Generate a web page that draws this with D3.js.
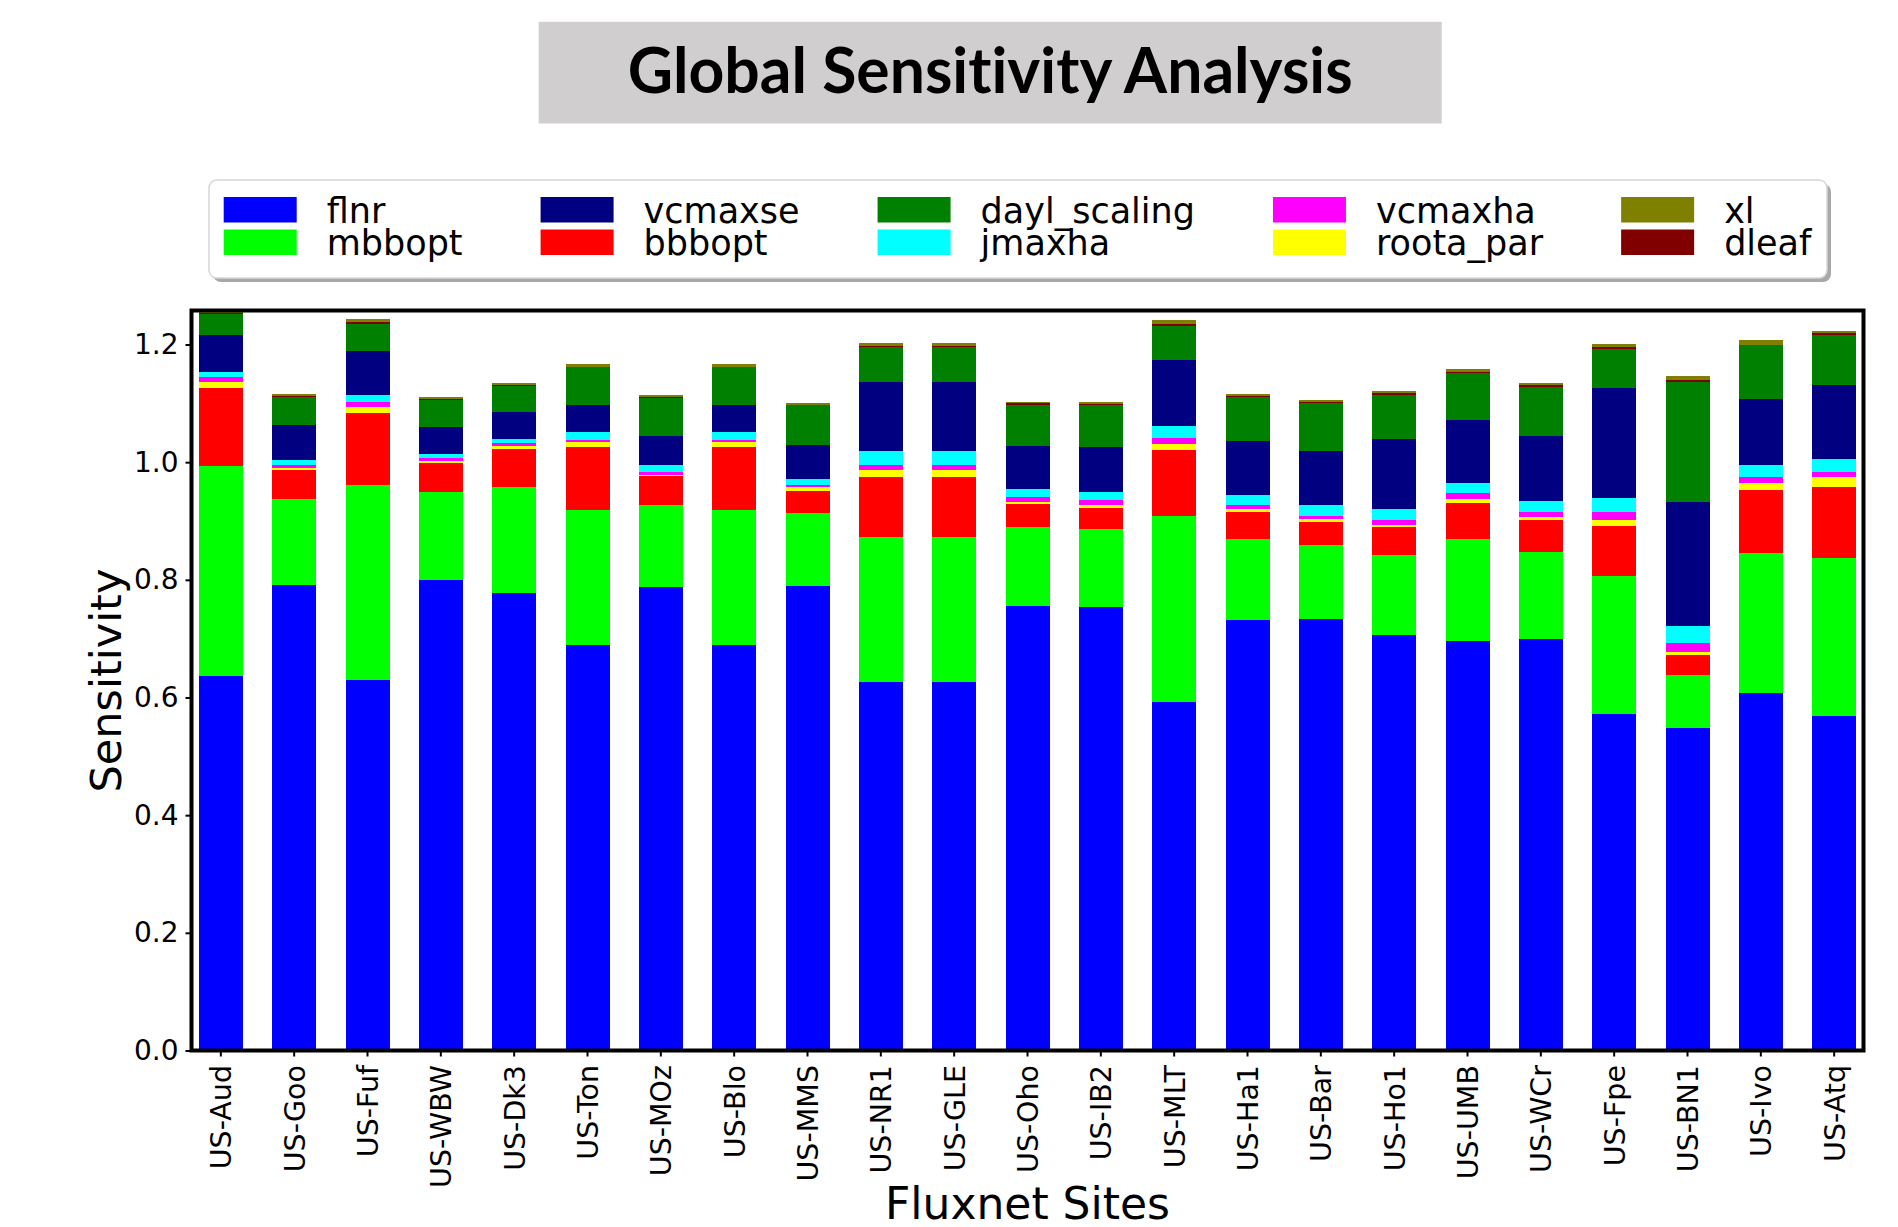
<!DOCTYPE html>
<html>
<head>
<meta charset="utf-8">
<script src="https://cdn.jsdelivr.net/npm/d3@7"></script>
<style>
  body { margin: 0; background: #fff; }
  #wrapper { width: 1898px; height: 1227px; }
  text { font-family: "DejaVu Sans", sans-serif; }
</style>
</head>
<body>
<div id="wrapper"></div>
<script>
// values, one array per parameter, sites in plot order
const sites = ["US-Aud", "US-Goo", "US-Fuf", "US-WBW", "US-Dk3", "US-Ton", "US-MOz", "US-Blo",
  "US-MMS", "US-NR1", "US-GLE", "US-Oho", "US-IB2", "US-MLT", "US-Ha1", "US-Bar", "US-Ho1",
  "US-UMB", "US-WCr", "US-Fpe", "US-BN1", "US-Ivo", "US-Atq"]

const flnr = [0.637, 0.791, 0.629, 0.800, 0.778, 0.690, 0.787, 0.690, 0.790, 0.627, 0.627, 0.755,
  0.753, 0.593, 0.732, 0.734, 0.706, 0.696, 0.699, 0.572, 0.549, 0.608, 0.569]
const mbbopt = [0.357, 0.147, 0.332, 0.150, 0.180, 0.229, 0.141, 0.229, 0.124, 0.245, 0.245, 0.135,
  0.133, 0.315, 0.138, 0.125, 0.136, 0.173, 0.148, 0.234, 0.089, 0.237, 0.268]
const bbbopt = [0.132, 0.048, 0.122, 0.048, 0.064, 0.107, 0.048, 0.107, 0.037, 0.103, 0.103, 0.039,
  0.036, 0.112, 0.046, 0.039, 0.048, 0.062, 0.054, 0.085, 0.034, 0.107, 0.121]
const roota_par = [0.011, 0.004, 0.011, 0.004, 0.006, 0.008, 0.003, 0.008, 0.007, 0.012, 0.012, 0.004,
  0.006, 0.011, 0.005, 0.005, 0.003, 0.007, 0.005, 0.011, 0.006, 0.012, 0.016]
const vcmaxha = [0.007, 0.005, 0.009, 0.005, 0.005, 0.004, 0.005, 0.004, 0.004, 0.009, 0.009, 0.007,
  0.007, 0.010, 0.007, 0.006, 0.009, 0.009, 0.009, 0.014, 0.014, 0.011, 0.009]
const jmaxha = [0.009, 0.009, 0.012, 0.007, 0.007, 0.013, 0.011, 0.013, 0.010, 0.023, 0.023, 0.014,
  0.014, 0.020, 0.017, 0.019, 0.019, 0.018, 0.019, 0.023, 0.030, 0.021, 0.023]
const vcmaxse = [0.063, 0.060, 0.074, 0.045, 0.046, 0.046, 0.049, 0.046, 0.057, 0.118, 0.118, 0.073,
  0.077, 0.112, 0.091, 0.091, 0.119, 0.107, 0.111, 0.187, 0.210, 0.112, 0.126]
const dayl_scaling = [0.036, 0.046, 0.046, 0.047, 0.043, 0.064, 0.065, 0.064, 0.068, 0.058, 0.058, 0.071,
  0.071, 0.059, 0.075, 0.081, 0.074, 0.079, 0.083, 0.067, 0.205, 0.091, 0.084]
const dleaf = [0.001, 0.003, 0.003, 0.001, 0.003, 0.0015, 0.0015, 0.0015, 0.001, 0.003, 0.003, 0.002,
  0.002, 0.003, 0.002, 0.002, 0.003, 0.002, 0.003, 0.003, 0.003, 0.001, 0.003]
const xl = [0.003, 0.003, 0.006, 0.003, 0.003, 0.004, 0.004, 0.004, 0.002, 0.005, 0.005, 0.003,
  0.003, 0.006, 0.003, 0.003, 0.004, 0.005, 0.004, 0.005, 0.006, 0.008, 0.004]

// bottom to top in each bar
const stackKeys = ["flnr", "mbbopt", "bbbopt", "roota_par", "vcmaxha", "jmaxha", "vcmaxse",
  "dayl_scaling", "dleaf", "xl"]
// legend is filled column by column, 5 columns
const legendKeys = ["flnr", "mbbopt", "vcmaxse", "bbbopt", "dayl_scaling", "jmaxha", "vcmaxha",
  "roota_par", "xl", "dleaf"]
const yTicks = [0, 0.2, 0.4, 0.6, 0.8, 1.0, 1.2]

function drawChart() {

    // 1. Access data
    const values = { flnr, mbbopt, bbbopt, roota_par, vcmaxha, jmaxha, vcmaxse, dayl_scaling, dleaf, xl }
    const dataset = sites.map((site, i) => {
        const row = { site }
        stackKeys.forEach(k => row[k] = values[k][i])
        return row
    })
    const xAccessor = d => d.site

    const colors = {
        flnr: "#0000ff", mbbopt: "#00ff00", vcmaxse: "#000080", bbbopt: "#ff0000",
        dayl_scaling: "#008000", jmaxha: "#00ffff", vcmaxha: "#ff00ff", roota_par: "#ffff00",
        xl: "#808000", dleaf: "#800000",
    }

    // 2. Create chart dimensions
    let dimensions = {
        width: 1898,
        height: 1227,
        margin: {
            top: 310.5,
            right: 34.5,
            bottom: 176.5,
            left: 191.5,
        },
    }
    dimensions.boundedWidth = dimensions.width - dimensions.margin.left - dimensions.margin.right
    dimensions.boundedHeight = dimensions.height - dimensions.margin.top - dimensions.margin.bottom

    // 3. Draw canvas
    const wrapper = d3.select("#wrapper")
        .append("svg")
        .attr("width", dimensions.width)
        .attr("height", dimensions.height)

    const bounds = wrapper.append("g")
        .attr("transform", `translate(${dimensions.margin.left}, ${dimensions.margin.top})`)

    // 4. Create scales
    const xScale = d3.scaleBand()
        .domain(dataset.map(xAccessor))
        .range([0, dimensions.boundedWidth])
        .paddingInner(0.4)
        .paddingOuter(0.1)

    const yScale = d3.scaleLinear()
        .domain([0, 1.2578])
        .range([dimensions.boundedHeight, 0])

    const stacked = d3.stack().keys(stackKeys)(dataset)

    // 5. Draw data
    const layers = bounds.selectAll(".layer")
        .data(stacked)
        .enter().append("g")
        .attr("class", "layer")
        .attr("fill", d => colors[d.key])

    layers.selectAll("rect")
        .data(d => d)
        .enter().append("rect")
        .attr("x", d => xScale(d.data.site))
        .attr("width", xScale.bandwidth())
        .attr("y", d => yScale(d[1]))
        .attr("height", d => yScale(d[0]) - yScale(d[1]))
        .attr("shape-rendering", "crispEdges")

    // 6. Draw peripherals
    const yAxisGenerator = d3.axisLeft()
        .scale(yScale)
        .tickValues(yTicks)
        .tickFormat(d3.format(".1f"))
        .tickSize(6)
        .tickPadding(7)
        .tickSizeOuter(0)

    const yAxis = bounds.append("g")
        .attr("class", "y-axis")
        .call(yAxisGenerator)
    yAxis.select(".domain").remove()
    yAxis.selectAll("line").attr("stroke", "#000").attr("stroke-width", 2)
    yAxis.selectAll("text")
        .attr("fill", "#000")
        .style("font-family", "'DejaVu Sans', sans-serif")
        .style("font-size", "28px")

    const xAxisGenerator = d3.axisBottom()
        .scale(xScale)
        .tickSize(6)
        .tickSizeOuter(0)

    const xAxis = bounds.append("g")
        .attr("class", "x-axis")
        .attr("transform", `translate(0, ${dimensions.boundedHeight})`)
        .call(xAxisGenerator)
    xAxis.select(".domain").remove()
    xAxis.selectAll("line").attr("stroke", "#000").attr("stroke-width", 2)
    xAxis.selectAll("text")
        .attr("transform", "rotate(-90)")
        .attr("text-anchor", "end")
        .attr("x", -14.5)
        .attr("y", 0)
        .attr("dy", "0.37em")
        .attr("fill", "#000")
        .style("font-family", "'DejaVu Sans', sans-serif")
        .style("font-size", "28.5px")

    // frame on top of the bars
    bounds.append("rect")
        .attr("width", dimensions.boundedWidth)
        .attr("height", dimensions.boundedHeight)
        .attr("fill", "none")
        .attr("stroke", "#000")
        .attr("stroke-width", 4)

    const yAxisLabel = wrapper.append("text")
        .attr("transform", `translate(121, ${dimensions.margin.top + dimensions.boundedHeight / 2}) rotate(-90)`)
        .attr("text-anchor", "middle")
        .style("font-size", "43px")
        .text("Sensitivity")

    const xAxisLabel = wrapper.append("text")
        .attr("x", dimensions.margin.left + dimensions.boundedWidth / 2)
        .attr("y", 1219)
        .attr("text-anchor", "middle")
        .style("font-size", "44px")
        .text("Fluxnet Sites")

    // title box
    const titleBox = { x: 538.7, y: 21.8, width: 903, height: 101.7 }
    wrapper.append("rect")
        .attr("x", titleBox.x)
        .attr("y", titleBox.y)
        .attr("width", titleBox.width)
        .attr("height", titleBox.height)
        .attr("fill", "#d0cece")
    wrapper.append("text")
        .attr("x", titleBox.x + titleBox.width / 2)
        .attr("y", 93)
        .attr("text-anchor", "middle")
        .attr("textLength", 725)
        .attr("lengthAdjust", "spacingAndGlyphs")
        .style("font-family", "Lato, 'Open Sans', sans-serif")
        .style("font-weight", 700)
        .style("font-size", "64px")
        .style("font-variant-ligatures", "none")
        .text("Global Sensitivity Analysis")

    // legend
    const legendBox = { x: 209, y: 180, width: 1618, height: 98 }
    const legend = wrapper.append("g").attr("class", "legend")
    legend.append("rect")
        .attr("x", legendBox.x + 4)
        .attr("y", legendBox.y + 4)
        .attr("width", legendBox.width)
        .attr("height", legendBox.height)
        .attr("rx", 8)
        .attr("fill", "#a8a8a8")
    legend.append("rect")
        .attr("x", legendBox.x)
        .attr("y", legendBox.y)
        .attr("width", legendBox.width)
        .attr("height", legendBox.height)
        .attr("rx", 8)
        .attr("fill", "#fff")
        .attr("stroke", "#d6d6d6")
        .attr("stroke-width", 1.5)

    const swatch = { width: 73, height: 25.5, textOffset: 103, colGap: 78, rowStep: 32.5 }
    const items = legend.selectAll(".legend-item")
        .data(legendKeys)
        .enter().append("g")
        .attr("class", "legend-item")
    items.append("rect")
        .attr("width", swatch.width)
        .attr("height", swatch.height)
        .attr("fill", d => colors[d])
    const labels = items.append("text")
        .attr("x", swatch.textOffset)
        .attr("y", swatch.height)
        .style("font-size", "35px")
        .text(d => d)

    // column widths follow the longest label in each column
    const labelWidths = labels.nodes().map(n => n.getComputedTextLength())
    const colX = [223.7]
    for (let c = 1; c < 5; c++) {
        const w = Math.max(labelWidths[2 * (c - 1)], labelWidths[2 * (c - 1) + 1])
        colX.push(colX[c - 1] + swatch.textOffset + w + swatch.colGap)
    }
    items.attr("transform", (d, i) =>
        `translate(${colX[Math.floor(i / 2)]}, ${197 + (i % 2) * swatch.rowStep})`)
}
drawChart()
</script>
</body>
</html>
